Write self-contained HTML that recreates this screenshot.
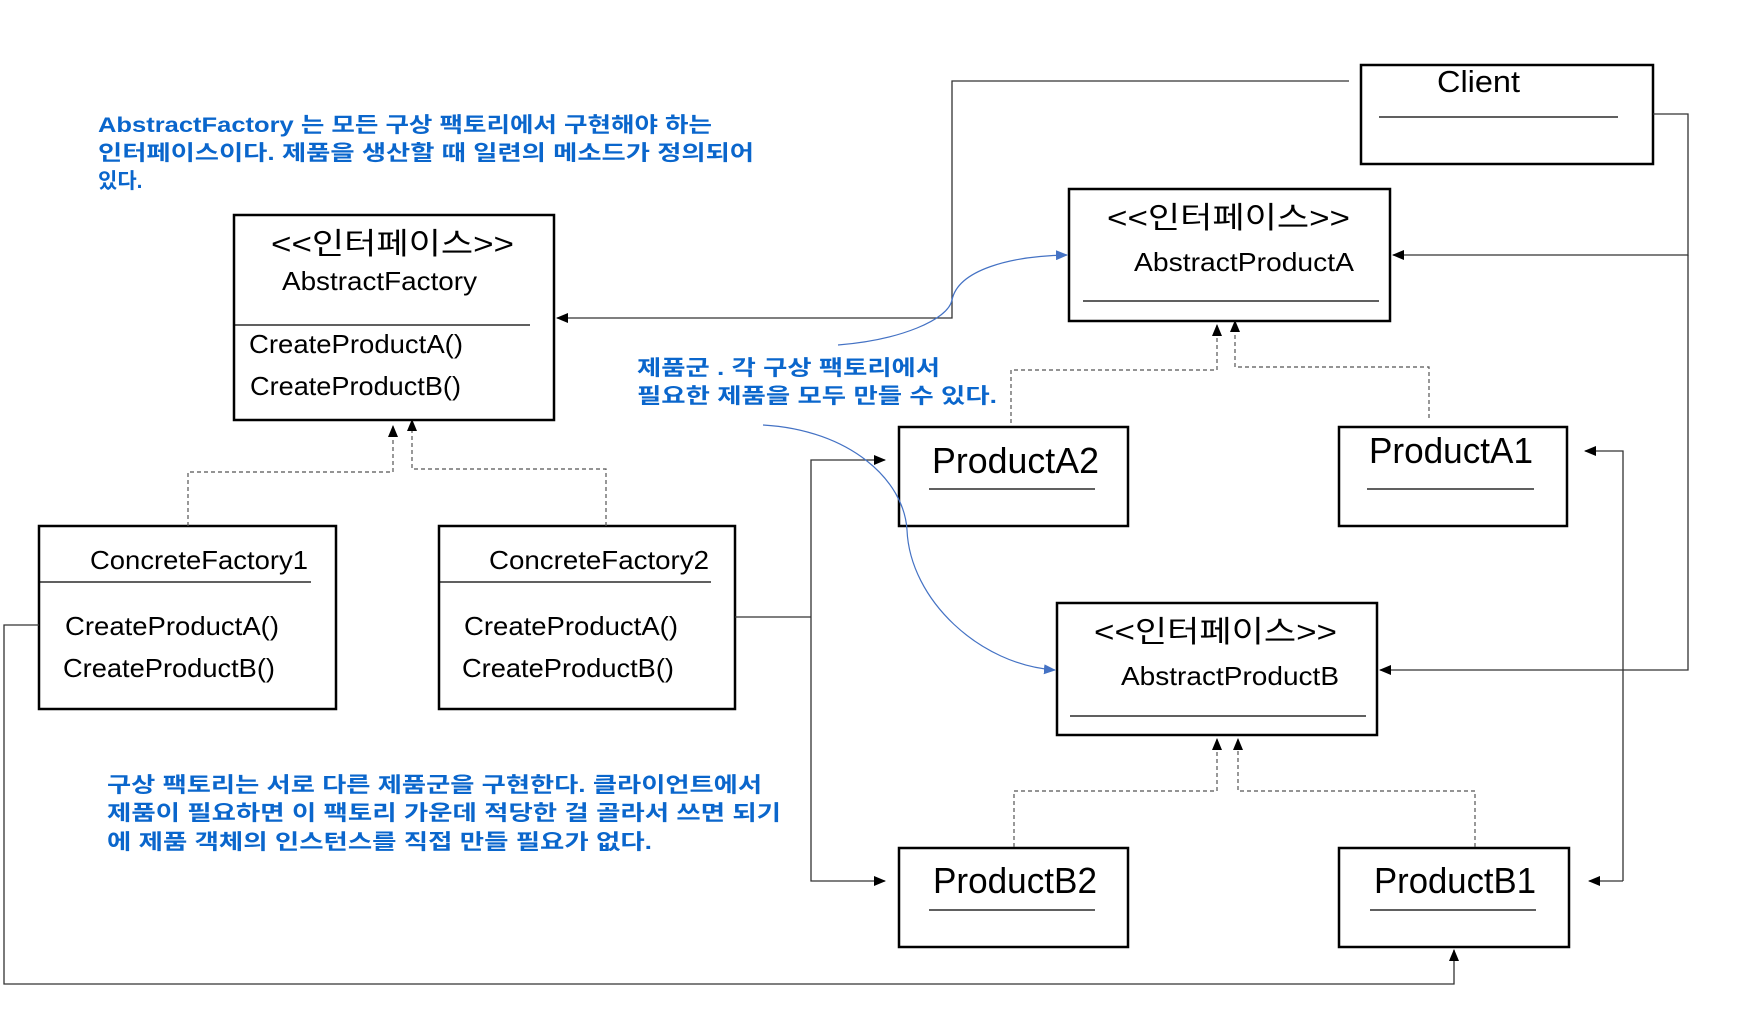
<!DOCTYPE html>
<html><head><meta charset="utf-8"><style>
html,body{margin:0;padding:0;background:#fff;}
svg{display:block;}
text{font-family:"Liberation Sans","Noto Sans CJK KR",sans-serif;}
.b{fill:#0a66cc;font-weight:bold;font-size:21px;}
.t{fill:#000;}
</style></head><body>
<svg width="1762" height="1023" viewBox="0 0 1762 1023" xmlns="http://www.w3.org/2000/svg">
<defs>
<marker id="ah" markerWidth="12" markerHeight="10" refX="11" refY="5" orient="auto" markerUnits="userSpaceOnUse"><path d="M0,0 L12,5 L0,10 z" fill="#000"/></marker>
<marker id="bh" markerWidth="12" markerHeight="10" refX="11" refY="5" orient="auto" markerUnits="userSpaceOnUse"><path d="M0,0 L12,5 L0,10 z" fill="#4472c4"/></marker>
</defs>

<!-- annotations -->
<text class="b" x="98" y="132" textLength="614" lengthAdjust="spacingAndGlyphs">AbstractFactory 는 모든 구상 팩토리에서 구현해야 하는</text>
<text class="b" x="98" y="160" textLength="656" lengthAdjust="spacingAndGlyphs">인터페이스이다. 제품을 생산할 때 일련의 메소드가 정의되어</text>
<text class="b" x="98" y="188">있다.</text>

<text class="b" x="637" y="375" textLength="303" lengthAdjust="spacingAndGlyphs">제품군 . 각 구상 팩토리에서</text>
<text class="b" x="637" y="403" textLength="360" lengthAdjust="spacingAndGlyphs">필요한 제품을 모두 만들 수 있다.</text>

<text class="b" x="107" y="792" textLength="655" lengthAdjust="spacingAndGlyphs">구상 팩토리는 서로 다른 제품군을 구현한다. 클라이언트에서</text>
<text class="b" x="107" y="820" textLength="674" lengthAdjust="spacingAndGlyphs">제품이 필요하면 이 팩토리 가운데 적당한 걸 골라서 쓰면 되기</text>
<text class="b" x="107" y="849" textLength="545" lengthAdjust="spacingAndGlyphs">에 제품 객체의 인스턴스를 직접 만들 필요가 없다.</text>

<!-- boxes -->
<g fill="none" stroke="#000" stroke-width="2.5">
<rect x="234" y="215" width="320" height="205"/>
<rect x="39" y="526" width="297" height="183"/>
<rect x="439" y="526" width="296" height="183"/>
<rect x="1361" y="65" width="292" height="99"/>
<rect x="1069" y="189" width="321" height="132"/>
<rect x="899" y="427" width="229" height="99"/>
<rect x="1339" y="427" width="228" height="99"/>
<rect x="1057" y="603" width="320" height="132"/>
<rect x="899" y="848" width="229" height="99"/>
<rect x="1339" y="848" width="230" height="99"/>
</g>
<g stroke="#000" stroke-width="1.2">
<line x1="234" y1="325" x2="530" y2="325"/>
<line x1="39" y1="582" x2="311" y2="582"/>
<line x1="439" y1="582" x2="711" y2="582"/>
<line x1="1379" y1="117" x2="1618" y2="117"/>
<line x1="1083" y1="301" x2="1379" y2="301"/>
<line x1="929" y1="489" x2="1095" y2="489"/>
<line x1="1367" y1="489" x2="1534" y2="489"/>
<line x1="1070" y1="716" x2="1366" y2="716"/>
<line x1="929" y1="910" x2="1095" y2="910"/>
<line x1="1370" y1="910" x2="1536" y2="910"/>
</g>

<!-- box texts -->
<text class="t" x="271" y="254" font-size="30" textLength="243" lengthAdjust="spacingAndGlyphs">&lt;&lt;인터페이스&gt;&gt;</text>
<text class="t" x="282" y="290" font-size="26" textLength="195" lengthAdjust="spacingAndGlyphs">AbstractFactory</text>
<text class="t" x="249" y="353" font-size="26" textLength="214" lengthAdjust="spacingAndGlyphs">CreateProductA()</text>
<text class="t" x="250" y="395" font-size="26" textLength="211" lengthAdjust="spacingAndGlyphs">CreateProductB()</text>

<text class="t" x="90" y="569" font-size="26" textLength="218" lengthAdjust="spacingAndGlyphs">ConcreteFactory1</text>
<text class="t" x="65" y="635" font-size="26" textLength="214" lengthAdjust="spacingAndGlyphs">CreateProductA()</text>
<text class="t" x="63" y="677" font-size="26" textLength="212" lengthAdjust="spacingAndGlyphs">CreateProductB()</text>
<text class="t" x="489" y="569" font-size="26" textLength="220" lengthAdjust="spacingAndGlyphs">ConcreteFactory2</text>
<text class="t" x="464" y="635" font-size="26" textLength="214" lengthAdjust="spacingAndGlyphs">CreateProductA()</text>
<text class="t" x="462" y="677" font-size="26" textLength="212" lengthAdjust="spacingAndGlyphs">CreateProductB()</text>

<text class="t" x="1437" y="92" font-size="31" textLength="83" lengthAdjust="spacingAndGlyphs">Client</text>
<text class="t" x="1107" y="228" font-size="30" textLength="243" lengthAdjust="spacingAndGlyphs">&lt;&lt;인터페이스&gt;&gt;</text>
<text class="t" x="1134" y="271" font-size="26" textLength="220" lengthAdjust="spacingAndGlyphs">AbstractProductA</text>
<text class="t" x="932" y="473" font-size="36" textLength="167" lengthAdjust="spacingAndGlyphs">ProductA2</text>
<text class="t" x="1369" y="463" font-size="36" textLength="164" lengthAdjust="spacingAndGlyphs">ProductA1</text>
<text class="t" x="1094" y="642" font-size="30" textLength="243" lengthAdjust="spacingAndGlyphs">&lt;&lt;인터페이스&gt;&gt;</text>
<text class="t" x="1121" y="685" font-size="26" textLength="218" lengthAdjust="spacingAndGlyphs">AbstractProductB</text>
<text class="t" x="933" y="893" font-size="36" textLength="164" lengthAdjust="spacingAndGlyphs">ProductB2</text>
<text class="t" x="1374" y="893" font-size="36" textLength="162" lengthAdjust="spacingAndGlyphs">ProductB1</text>

<!-- dashed inheritance -->
<g fill="none" stroke="#555" stroke-width="1.2" stroke-dasharray="4,3">
<polyline points="188,526 188,472 393,472 393,426" marker-end="url(#ah)"/>
<polyline points="606,526 606,469 412,469 412,420" marker-end="url(#ah)"/>
<polyline points="1011,423 1011,370 1217,370 1217,325" marker-end="url(#ah)"/>
<polyline points="1429,418 1429,367 1235,367 1235,321" marker-end="url(#ah)"/>
<polyline points="1014,847 1014,791 1217,791 1217,739" marker-end="url(#ah)"/>
<polyline points="1475,847 1475,791 1238,791 1238,739" marker-end="url(#ah)"/>
</g>

<!-- solid connectors -->
<g fill="none" stroke="#333" stroke-width="1.3">
<polyline points="1349,81 952,81 952,318 557,318" marker-end="url(#ah)"/>
<polyline points="1653,114 1688,114 1688,255 1393,255" marker-end="url(#ah)"/>
<polyline points="1688,255 1688,670 1380,670" marker-end="url(#ah)"/>
<polyline points="735,617 811,617"/>
<polyline points="811,617 811,460 885,460" marker-end="url(#ah)"/>
<polyline points="811,617 811,881 885,881" marker-end="url(#ah)"/>
<polyline points="1623,881 1623,451 1585,451" marker-end="url(#ah)"/>
<polyline points="1623,881 1589,881" marker-end="url(#ah)"/>
<polyline points="39,625 4,625 4,984 1454,984 1454,950" marker-end="url(#ah)"/>
</g>

<!-- blue curves -->
<g fill="none" stroke="#4472c4" stroke-width="1.2">
<path d="M838,345 C900,340 948,320 952,300 C958,270 1010,256 1067,255" marker-end="url(#bh)"/>
<path d="M763,425 C850,430 904,480 907,530 C910,600 980,665 1055,670" marker-end="url(#bh)"/>
</g>
</svg>
</body></html>
